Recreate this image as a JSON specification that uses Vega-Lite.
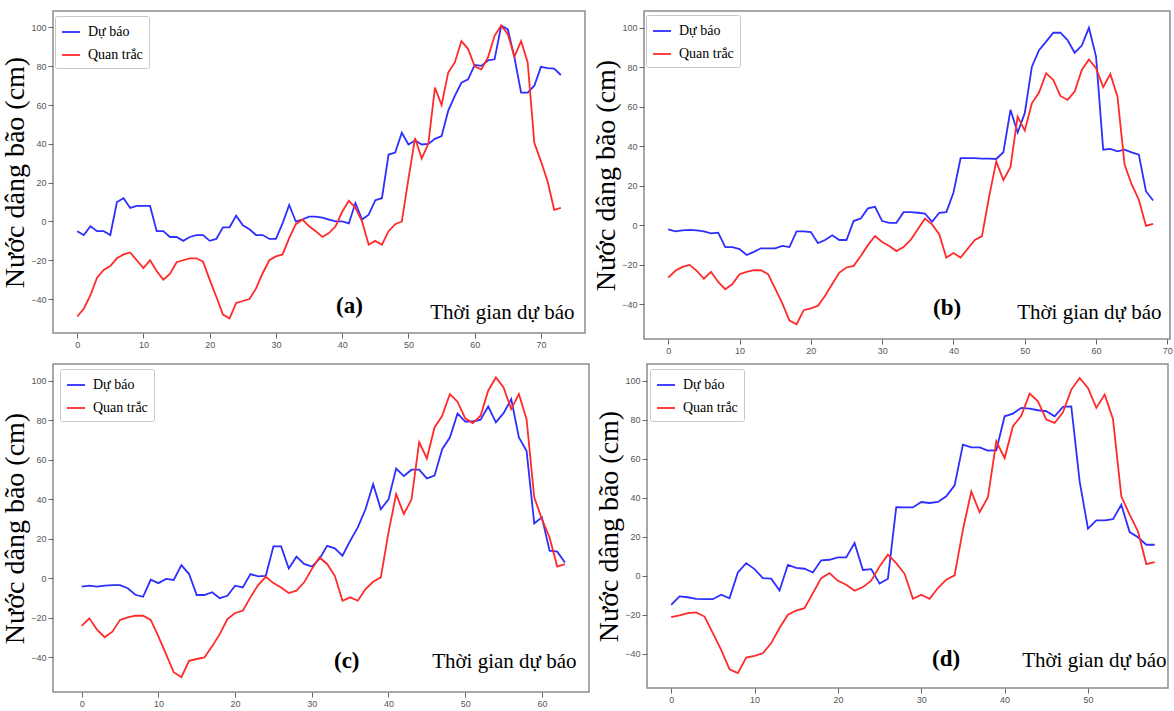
{
  "$schema": "https://vega.github.io/schema/vega-lite/v6.json",
  "padding": {"left": 0, "top": 10, "right": 0, "bottom": 0},
  "background": "white",
  "datasets": {
    "a": [
      {"t":0,"f":-5,"o":-49},{"t":1,"f":-7,"o":-45},{"t":2,"f":-2.5,"o":-38},{"t":3,"f":-5,"o":-29},{"t":4,"f":-5,"o":-25},
      {"t":5,"f":-7,"o":-23},{"t":6,"f":10,"o":-19},{"t":7,"f":12,"o":-17},{"t":8,"f":7,"o":-16},{"t":9,"f":8,"o":-20},
      {"t":10,"f":8,"o":-24},{"t":11,"f":8,"o":-20},{"t":12,"f":-5,"o":-25.5},{"t":13,"f":-5,"o":-30},{"t":14,"f":-8,"o":-27},
      {"t":15,"f":-8,"o":-21},{"t":16,"f":-10,"o":-20},{"t":17,"f":-8,"o":-19},{"t":18,"f":-7,"o":-19},{"t":19,"f":-7,"o":-20.7},
      {"t":20,"f":-10,"o":-30},{"t":21,"f":-9,"o":-38.8},{"t":22,"f":-3,"o":-48},{"t":23,"f":-3,"o":-50},{"t":24,"f":3,"o":-42},
      {"t":25,"f":-2,"o":-41},{"t":26,"f":-4,"o":-40},{"t":27,"f":-7,"o":-34.5},{"t":28,"f":-7,"o":-26.7},{"t":29,"f":-9,"o":-20},
      {"t":30,"f":-9,"o":-18},{"t":31,"f":-1,"o":-17},{"t":32,"f":8.5,"o":-8.6},{"t":33,"f":0,"o":-1.4},{"t":34,"f":1,"o":1},
      {"t":35,"f":2.5,"o":-2.5},{"t":36,"f":2.5,"o":-5},{"t":37,"f":2,"o":-8},{"t":38,"f":1,"o":-6},{"t":39,"f":0,"o":-2.5},
      {"t":40,"f":0,"o":5},{"t":41,"f":-1,"o":10.7},{"t":42,"f":9.5,"o":7},{"t":43,"f":1,"o":0},{"t":44,"f":3.5,"o":-12},
      {"t":45,"f":11,"o":-10},{"t":46,"f":12,"o":-12},{"t":47,"f":34.5,"o":-5},{"t":48,"f":35.5,"o":-1.4},{"t":49,"f":45.7,"o":0},
      {"t":50,"f":39.7,"o":22},{"t":51,"f":41.7,"o":43},{"t":52,"f":39.7,"o":32.4},{"t":53,"f":40,"o":40},{"t":54,"f":42.6,"o":69},
      {"t":55,"f":44,"o":60},{"t":56,"f":57,"o":76.7},{"t":57,"f":64.7,"o":82},{"t":58,"f":71.5,"o":93},{"t":59,"f":73.3,"o":89},
      {"t":60,"f":80.7,"o":80},{"t":61,"f":80.2,"o":78.4},{"t":62,"f":83,"o":84.5},{"t":63,"f":83.6,"o":95.7},{"t":64,"f":100.9,"o":101},
      {"t":65,"f":99,"o":96.5},{"t":66,"f":84.5,"o":85},{"t":67,"f":66.4,"o":93},{"t":68,"f":66.4,"o":82},{"t":69,"f":70,"o":40.5},
      {"t":70,"f":79.7,"o":31},{"t":71,"f":79,"o":20.7},{"t":72,"f":78.8,"o":6},{"t":73,"f":75.5,"o":7}
    ],
    "b": [
      {"t":0,"f":-2,"o":-26.4},{"t":1,"f":-3,"o":-23},{"t":2,"f":-2.5,"o":-21},{"t":3,"f":-2.3,"o":-20},{"t":4,"f":-2.5,"o":-23},
      {"t":5,"f":-3,"o":-27},{"t":6,"f":-4,"o":-23.5},{"t":7,"f":-3.7,"o":-28.6},{"t":8,"f":-11,"o":-32.3},{"t":9,"f":-11,"o":-29.7},
      {"t":10,"f":-12,"o":-24.7},{"t":11,"f":-15,"o":-23.5},{"t":12,"f":-13.4,"o":-22.7},{"t":13,"f":-11.6,"o":-22.7},{"t":14,"f":-11.6,"o":-24.7},
      {"t":15,"f":-11.6,"o":-32},{"t":16,"f":-10.4,"o":-39.5},{"t":17,"f":-11,"o":-48.2},{"t":18,"f":-3,"o":-50},{"t":19,"f":-3,"o":-42.9},
      {"t":20,"f":-3.4,"o":-42},{"t":21,"f":-9,"o":-40.7},{"t":22,"f":-7.4,"o":-35.6},{"t":23,"f":-5,"o":-29.7},{"t":24,"f":-7.4,"o":-23.9},
      {"t":25,"f":-7.4,"o":-21.3},{"t":26,"f":2.2,"o":-20.5},{"t":27,"f":3.5,"o":-15.5},{"t":28,"f":8.6,"o":-10},{"t":29,"f":9.4,"o":-5.4},
      {"t":30,"f":2.2,"o":-8.4},{"t":31,"f":1.3,"o":-10.4},{"t":32,"f":1.3,"o":-13},{"t":33,"f":6.7,"o":-11},{"t":34,"f":6.7,"o":-7.4},
      {"t":35,"f":6.4,"o":-2},{"t":36,"f":6,"o":3.4},{"t":37,"f":1.8,"o":0.5},{"t":38,"f":6.4,"o":-4.5},{"t":39,"f":6.7,"o":-16.3},
      {"t":40,"f":16.5,"o":-14},{"t":41,"f":34,"o":-16.3},{"t":42,"f":34,"o":-11.8},{"t":43,"f":34,"o":-7.4},{"t":44,"f":33.8,"o":-5.4},
      {"t":45,"f":33.8,"o":14.5},{"t":46,"f":33.6,"o":32.4},{"t":47,"f":37,"o":22.9},{"t":48,"f":58.5,"o":29.6},{"t":49,"f":47,"o":55},
      {"t":50,"f":56.8,"o":48},{"t":51,"f":80.3,"o":61.8},{"t":52,"f":88.7,"o":67.2},{"t":53,"f":93,"o":77},{"t":54,"f":97.5,"o":73.6},
      {"t":55,"f":97.5,"o":65.5},{"t":56,"f":93.8,"o":63.5},{"t":57,"f":87.4,"o":67.7},{"t":58,"f":91,"o":78.7},{"t":59,"f":100,"o":84},
      {"t":60,"f":85.4,"o":79.5},{"t":61,"f":38.3,"o":70},{"t":62,"f":38.7,"o":76.6},{"t":63,"f":37.5,"o":65.2},{"t":64,"f":38.3,"o":30.8},
      {"t":65,"f":37,"o":20.7},{"t":66,"f":35.8,"o":13},{"t":67,"f":17.3,"o":-0.3},{"t":68,"f":12.6,"o":0.8}
    ],
    "c": [
      {"t":0,"f":-4.2,"o":-24},{"t":1,"f":-3.7,"o":-20.2},{"t":2,"f":-4.2,"o":-26},{"t":3,"f":-3.7,"o":-29.8},{"t":4,"f":-3.4,"o":-27},
      {"t":5,"f":-3.4,"o":-21},{"t":6,"f":-5,"o":-19.7},{"t":7,"f":-8.3,"o":-18.9},{"t":8,"f":-9.3,"o":-18.9},{"t":9,"f":-0.7,"o":-21},
      {"t":10,"f":-2.4,"o":-29.3},{"t":11,"f":-0.3,"o":-38.3},{"t":12,"f":-0.8,"o":-47.5},{"t":13,"f":6.7,"o":-50},{"t":14,"f":2.2,"o":-41.7},
      {"t":15,"f":-8.4,"o":-40.8},{"t":16,"f":-8.4,"o":-40},{"t":17,"f":-7,"o":-34.4},{"t":18,"f":-10,"o":-28.2},{"t":19,"f":-8.8,"o":-20.6},
      {"t":20,"f":-3.7,"o":-17.5},{"t":21,"f":-4.6,"o":-16.4},{"t":22,"f":2.2,"o":-9.6},{"t":23,"f":1,"o":-3.4},{"t":24,"f":1.3,"o":0.8},
      {"t":25,"f":16.2,"o":-2.4},{"t":26,"f":16.2,"o":-4.6},{"t":27,"f":5,"o":-7.4},{"t":28,"f":11,"o":-6.2},{"t":29,"f":7.3,"o":-2},
      {"t":30,"f":6,"o":4.7},{"t":31,"f":9.8,"o":10.6},{"t":32,"f":16.5,"o":7.3},{"t":33,"f":15.2,"o":1.3},{"t":34,"f":11.5,"o":-11.3},
      {"t":35,"f":19,"o":-9.6},{"t":36,"f":25.8,"o":-11.3},{"t":37,"f":35,"o":-5.4},{"t":38,"f":47.7,"o":-1.7},{"t":39,"f":35,"o":0.5},
      {"t":40,"f":40,"o":23.3},{"t":41,"f":55.6,"o":42.7},{"t":42,"f":51.8,"o":32.5},{"t":43,"f":55,"o":40},{"t":44,"f":55,"o":69},
      {"t":45,"f":50.6,"o":60.7},{"t":46,"f":52,"o":76.4},{"t":47,"f":65.4,"o":82.3},{"t":48,"f":71.3,"o":93.3},{"t":49,"f":83.5,"o":89.4},
      {"t":50,"f":79.4,"o":81},{"t":51,"f":79.4,"o":78.6},{"t":52,"f":80.3,"o":82.3},{"t":53,"f":87,"o":95},{"t":54,"f":79,"o":101.7},
      {"t":55,"f":83.6,"o":96.6},{"t":56,"f":90.7,"o":85.7},{"t":57,"f":71.3,"o":93.3},{"t":58,"f":64.6,"o":80.6},{"t":59,"f":27.8,"o":41},
      {"t":60,"f":30.9,"o":30},{"t":61,"f":14,"o":20.7},{"t":62,"f":13.5,"o":6},{"t":63,"f":8,"o":7.2}
    ],
    "d": [
      {"t":0,"f":-14.9,"o":-21.2},{"t":1,"f":-10.6,"o":-20.3},{"t":2,"f":-11,"o":-19.1},{"t":3,"f":-11.8,"o":-18.8},{"t":4,"f":-12,"o":-20.9},
      {"t":5,"f":-12,"o":-29.4},{"t":6,"f":-9.7,"o":-38},{"t":7,"f":-11.5,"o":-47.9},{"t":8,"f":1.7,"o":-49.9},{"t":9,"f":6.5,"o":-41.9},
      {"t":10,"f":3.4,"o":-41},{"t":11,"f":-1.2,"o":-39.7},{"t":12,"f":-1.5,"o":-34.5},{"t":13,"f":-7.5,"o":-26.8},{"t":14,"f":5.6,"o":-20},
      {"t":15,"f":4,"o":-17.8},{"t":16,"f":3.6,"o":-16.6},{"t":17,"f":1.7,"o":-8.9},{"t":18,"f":7.9,"o":-1.2},{"t":19,"f":8.2,"o":1.4},
      {"t":20,"f":9.4,"o":-2.6},{"t":21,"f":9.4,"o":-4.6},{"t":22,"f":16.8,"o":-7.7},{"t":23,"f":3,"o":-5.8},{"t":24,"f":3.4,"o":-2.5},
      {"t":25,"f":-4,"o":4.8},{"t":26,"f":-1.5,"o":10.8},{"t":27,"f":35.2,"o":6.5},{"t":28,"f":35,"o":1},{"t":29,"f":35,"o":-11.8},
      {"t":30,"f":37.8,"o":-9.7},{"t":31,"f":37.3,"o":-11.8},{"t":32,"f":37.8,"o":-6.3},{"t":33,"f":40.7,"o":-2},{"t":34,"f":46.3,"o":0.2},
      {"t":35,"f":67.2,"o":23.6},{"t":36,"f":65.8,"o":43.2},{"t":37,"f":65.8,"o":32.6},{"t":38,"f":64.1,"o":40.2},{"t":39,"f":64.3,"o":68.9},
      {"t":40,"f":81.7,"o":60.3},{"t":41,"f":83.1,"o":76.6},{"t":42,"f":86,"o":82},{"t":43,"f":85.6,"o":93.3},{"t":44,"f":84.8,"o":89.4},
      {"t":45,"f":84.3,"o":80},{"t":46,"f":81.7,"o":78.3},{"t":47,"f":86.5,"o":83.8},{"t":48,"f":86.8,"o":95.4},{"t":49,"f":48.4,"o":101.4},
      {"t":50,"f":24.1,"o":96.2},{"t":51,"f":28.4,"o":86},{"t":52,"f":28.4,"o":92.8},{"t":53,"f":29,"o":80.3},{"t":54,"f":36.4,"o":40.7},
      {"t":55,"f":22.4,"o":31.3},{"t":56,"f":19.7,"o":22.7},{"t":57,"f":15.9,"o":6},{"t":58,"f":15.9,"o":7}
    ]
  },
  "resolve": {"scale": {"color": "independent"}, "legend": {"color": "independent"}},
  "spacing": 7,
  "vconcat": [
    {
      "spacing": 5,
      "resolve": {"scale": {"color": "independent"}, "legend": {"color": "independent"}},
      "hconcat": [
        {
          "width": 532, "height": 322,
          "data": {"name": "a"},
          "transform": [{"fold": ["f", "o"], "as": ["s", "v"]}],
          "title": {"text": "(a)", "orient": "bottom", "anchor": "start", "frame": "group", "dx": 283, "dy": -36, "offset": 0, "baseline": "alphabetic", "font": "Liberation Serif", "fontSize": 23, "fontWeight": "bold", "color": "#000"},
          "mark": {"type": "line", "strokeWidth": 1.8, "clip": true},
          "encoding": {
            "x": {"field": "t", "type": "quantitative", "scale": {"domain": [-3.65, 76.65], "nice": false, "zero": false},
                  "axis": {"values": [0, 10, 20, 30, 40, 50, 60, 70], "title": "Thời gian dự báo", "titleX": 521, "titleY": -15}},
            "y": {"field": "v", "type": "quantitative", "scale": {"domain": [-57.5, 108.5], "nice": false, "zero": false},
                  "axis": {"values": [-40, -20, 0, 20, 40, 60, 80, 100], "title": "Nước dâng bão (cm)"}},
            "color": {"field": "s", "type": "nominal", "scale": {"domain": ["f", "o"], "range": ["#2e2eff", "#ff2a2a"]},
                      "legend": {"orient": "none", "legendX": 2, "legendY": 5, "labelExpr": "datum.label == 'f' ? 'Dự báo' : 'Quan trắc'"}}
          }
        },
        {
          "width": 526, "height": 328,
          "data": {"name": "b"},
          "transform": [{"fold": ["f", "o"], "as": ["s", "v"]}],
          "title": {"text": "(b)", "orient": "bottom", "anchor": "start", "frame": "group", "dx": 289, "dy": -40, "offset": 0, "baseline": "alphabetic", "font": "Liberation Serif", "fontSize": 23, "fontWeight": "bold", "color": "#000"},
          "mark": {"type": "line", "strokeWidth": 1.8, "clip": true},
          "encoding": {
            "x": {"field": "t", "type": "quantitative", "scale": {"domain": [-3.4, 70.37], "nice": false, "zero": false},
                  "axis": {"values": [0, 10, 20, 30, 40, 50, 60, 70], "title": "Thời gian dự báo", "titleX": 517, "titleY": -21}},
            "y": {"field": "v", "type": "quantitative", "scale": {"domain": [-57.5, 108.5], "nice": false, "zero": false},
                  "axis": {"values": [-40, -20, 0, 20, 40, 60, 80, 100], "title": "Nước dâng bão (cm)"}},
            "color": {"field": "s", "type": "nominal", "scale": {"domain": ["f", "o"], "range": ["#2e2eff", "#ff2a2a"]},
                      "legend": {"orient": "none", "legendX": 2, "legendY": 4, "labelExpr": "datum.label == 'f' ? 'Dự báo' : 'Quan trắc'"}}
          }
        }
      ]
    },
    {
      "spacing": 4,
      "resolve": {"scale": {"color": "independent"}, "legend": {"color": "independent"}},
      "hconcat": [
        {
          "width": 536, "height": 328,
          "data": {"name": "c"},
          "transform": [{"fold": ["f", "o"], "as": ["s", "v"]}],
          "title": {"text": "(c)", "orient": "bottom", "anchor": "start", "frame": "group", "dx": 281, "dy": -40, "offset": 0, "baseline": "alphabetic", "font": "Liberation Serif", "fontSize": 23, "fontWeight": "bold", "color": "#000"},
          "mark": {"type": "line", "strokeWidth": 1.8, "clip": true},
          "encoding": {
            "x": {"field": "t", "type": "quantitative", "scale": {"domain": [-3.74, 66.14], "nice": false, "zero": false},
                  "axis": {"values": [0, 10, 20, 30, 40, 50, 60], "title": "Thời gian dự báo", "titleX": 523, "titleY": -25}},
            "y": {"field": "v", "type": "quantitative", "scale": {"domain": [-57.5, 108.5], "nice": false, "zero": false},
                  "axis": {"values": [-40, -20, 0, 20, 40, 60, 80, 100], "title": "Nước dâng bão (cm)"}},
            "color": {"field": "s", "type": "nominal", "scale": {"domain": ["f", "o"], "range": ["#2e2eff", "#ff2a2a"]},
                      "legend": {"orient": "none", "legendX": 7, "legendY": 5, "labelExpr": "datum.label == 'f' ? 'Dự báo' : 'Quan trắc'"}}
          }
        },
        {
          "width": 521, "height": 324,
          "data": {"name": "d"},
          "transform": [{"fold": ["f", "o"], "as": ["s", "v"]}],
          "title": {"text": "(d)", "orient": "bottom", "anchor": "start", "frame": "group", "dx": 285, "dy": -38, "offset": 0, "baseline": "alphabetic", "font": "Liberation Serif", "fontSize": 23, "fontWeight": "bold", "color": "#000"},
          "mark": {"type": "line", "strokeWidth": 1.8, "clip": true},
          "encoding": {
            "x": {"field": "t", "type": "quantitative", "scale": {"domain": [-2.9, 59.6], "nice": false, "zero": false},
                  "axis": {"values": [0, 10, 20, 30, 40, 50], "title": "Thời gian dự báo", "titleX": 519, "titleY": -22}},
            "y": {"field": "v", "type": "quantitative", "scale": {"domain": [-57.5, 108.5], "nice": false, "zero": false},
                  "axis": {"values": [-40, -20, 0, 20, 40, 60, 80, 100], "title": "Nước dâng bão (cm)"}},
            "color": {"field": "s", "type": "nominal", "scale": {"domain": ["f", "o"], "range": ["#2e2eff", "#ff2a2a"]},
                      "legend": {"orient": "none", "legendX": 3, "legendY": 5, "labelExpr": "datum.label == 'f' ? 'Dự báo' : 'Quan trắc'"}}
          }
        }
      ]
    }
  ],
  "config": {
    "view": {"stroke": "#8c8c8c", "strokeWidth": 1.5},
    "axis": {"grid": false, "domain": false, "labelFont": "Liberation Sans", "labelFontSize": 9, "labelColor": "#555", "tickColor": "#666", "tickSize": 5, "labelPadding": 2, "titleFont": "Liberation Serif", "titleFontWeight": "normal", "titleColor": "#000"},
    "axisY": {"titleFontSize": 28, "titlePadding": 1},
    "axisX": {"titleFontSize": 21, "titleAlign": "right", "titleBaseline": "alphabetic"},
    "legend": {"title": null, "symbolType": "stroke", "symbolStrokeWidth": 1.8, "symbolSize": 324, "labelFont": "Liberation Serif", "labelFontSize": 14, "labelColor": "#000", "strokeColor": "#c8c8c8", "fillColor": "white", "padding": 6, "rowPadding": 6, "labelOffset": 7, "cornerRadius": 2}
  }
}
